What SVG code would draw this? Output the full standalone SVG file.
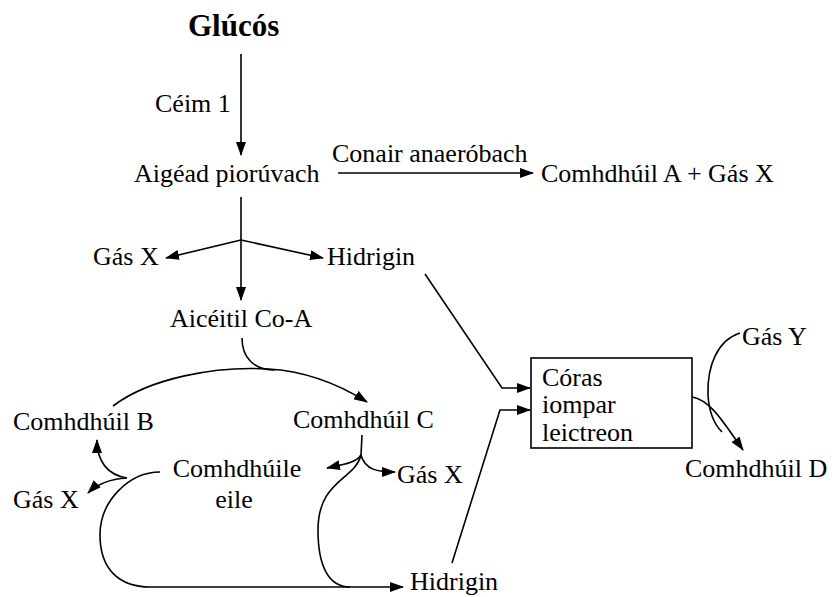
<svg xmlns="http://www.w3.org/2000/svg" width="832" height="597" viewBox="0 0 832 597" font-family="'Liberation Serif', 'Times New Roman', serif">
<defs>
<style>
text{font-family:"Liberation Serif","Times New Roman",serif;font-size:26px;fill:#000}
.t{font-weight:bold;font-size:31px}
.c{fill:none;stroke:#000;stroke-width:1.6}
</style>
<marker id="ah" markerUnits="userSpaceOnUse" markerWidth="14" markerHeight="10" refX="13" refY="5" orient="auto">
<path d="M0,0 L14,5 L0,10 Z" fill="#000"/>
</marker>
</defs>
<rect width="832" height="597" fill="#fff"/>
<g id="connectors">
<path class="c" d="M241,54 L241,155" marker-end="url(#ah)"/>
<path class="c" d="M338,173 L533,173" marker-end="url(#ah)"/>
<path class="c" d="M241,197 L241,300" marker-end="url(#ah)"/>
<path class="c" d="M241,240 L166,258" marker-end="url(#ah)"/>
<path class="c" d="M241,240 L323,258" marker-end="url(#ah)"/>
<path class="c" d="M242,338 C242,358 254,370 275,370"/>
<path class="c" d="M113,406 C150,378 215,366 268,369 C305,371 340,385 367,402" marker-end="url(#ah)"/>
<path class="c" d="M160,472 C130,472 100,500 100,535 C100,570 120,587 150,587 L403,587" marker-end="url(#ah)"/>
<path class="c" d="M127,478 C108,475 97,462 97,440" marker-end="url(#ah)"/>
<path class="c" d="M127,478 C112,479 98,483 88,493" marker-end="url(#ah)"/>
<path class="c" d="M362,435 L361,455"/>
<path class="c" d="M361,455 C355,464 340,465 327,468" marker-end="url(#ah)"/>
<path class="c" d="M361,455 C365,470 378,472 395,472" marker-end="url(#ah)"/>
<path class="c" d="M361,455 C355,480 318,480 318,530 C318,565 328,587 350,587"/>
<path class="c" d="M425,274 L502,388 L530,388" marker-end="url(#ah)"/>
<path class="c" d="M452,563 L500,410 L530,410" marker-end="url(#ah)"/>
<path class="c" d="M692,397 C710,400 722,420 743,450" marker-end="url(#ah)"/>
<path class="c" d="M740,333 C718,340 707,365 708,395 C709,412 715,425 722,432"/>
</g>
<g id="glucos"><text class="t" x="188" y="36">Glúcós</text></g>
<g id="ceim1"><text x="155" y="112">Céim 1</text></g>
<g id="aigead"><text x="134" y="182">Aigéad piorúvach</text></g>
<g id="conair"><text x="332" y="162">Conair anaeróbach</text></g>
<g id="comhdhuilA"><text x="541" y="182">Comhdhúil A + Gás X</text></g>
<g id="gasX1"><text x="93" y="265">Gás X</text></g>
<g id="hidrigin1"><text x="327" y="265">Hidrigin</text></g>
<g id="aiceitil"><text x="170" y="327">Aicéitil Co-A</text></g>
<g id="comhdhuilB"><text x="13" y="430">Comhdhúil B</text></g>
<g id="comhdhuilC"><text x="293" y="428">Comhdhúil C</text></g>
<g id="eile"><text x="237" y="477" text-anchor="middle">Comhdhúile</text><text x="234" y="508" text-anchor="middle">eile</text></g>
<g id="gasX2"><text x="13" y="508">Gás X</text></g>
<g id="gasX3"><text x="397" y="483">Gás X</text></g>
<g id="hidrigin2"><text x="410" y="590">Hidrigin</text></g>
<g id="coras">
<rect x="531" y="358" width="161" height="90" fill="none" stroke="#000" stroke-width="1.6"/>
<text x="542" y="386">Córas</text>
<text x="542" y="413">iompar</text>
<text x="542" y="441">leictreon</text>
</g>
<g id="gasY"><text x="742" y="345">Gás Y</text></g>
<g id="comhdhuilD"><text x="685" y="477">Comhdhúil D</text></g>
</svg>
